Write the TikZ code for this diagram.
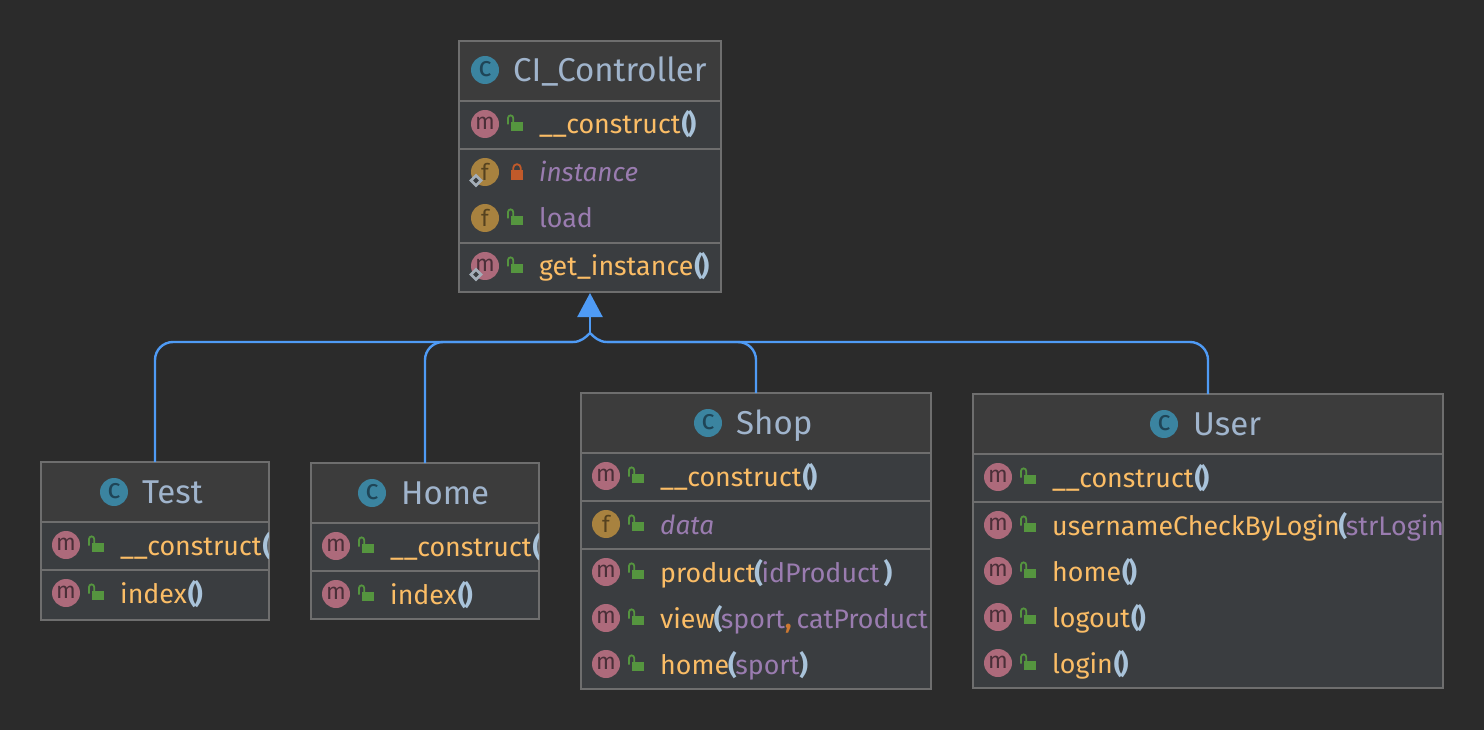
\documentclass[tikz,border=0pt]{standalone}
\usepackage{fontspec}
\setmainfont{Fira Sans}
\usetikzlibrary{arrows.meta}
\definecolor{bg}{HTML}{2B2B2B}
\definecolor{hdr}{HTML}{3C3C3C}
\definecolor{body}{HTML}{3A3D40}
\definecolor{edge}{HTML}{6E6E6E}
\definecolor{titlec}{HTML}{A0B4CC}
\definecolor{meth}{HTML}{FBBD66}
\definecolor{parm}{HTML}{9A7CB0}
\definecolor{paren}{HTML}{A9C3DA}
\definecolor{comma}{HTML}{CC7832}
\definecolor{icoc}{HTML}{3B84A0}
\definecolor{icom}{HTML}{AD6A7B}
\definecolor{icof}{HTML}{A8823F}
\definecolor{inkc}{HTML}{1F4557}
\definecolor{inkm}{HTML}{4A2F38}
\definecolor{inkf}{HTML}{55421F}
\definecolor{lockg}{HTML}{55953F}
\definecolor{locko}{HTML}{C15A2A}
\definecolor{link}{HTML}{4F9BF5}
\definecolor{stat}{HTML}{A4AEB8}
\tikzset{
  classbox/.style={draw=edge,fill=body,line width=2pt,inner sep=0pt,outer sep=0pt},
  sepline/.style={draw=edge,line width=2pt},
  icon/.style={circle,inner sep=0pt,outer sep=0pt,minimum size=28pt,font=\fontsize{23}{23}\selectfont},
  titletext/.style={anchor=base west,inner sep=0pt,text=titlec,font=\fontsize{33}{33}\selectfont},
  rowtext/.style={anchor=base west,inner sep=0pt,font=\fontsize{26.8}{27}\selectfont},
  uplink/.style={draw=link,line width=2.4pt,rounded corners=18pt},
  uplinkjoin/.style={draw=link,line width=2.4pt},
}
\newcommand{\classframe}[6]{%
  \node[classbox,minimum width={(#4-#2)*1pt},minimum height={(#5-#3)*1pt}] (#1) at ({(#2+#4)/2},{(#3+#5)/2}) {};
  \fill[hdr] (#2,#3) rectangle (#4,#6);
  \draw[edge,line width=2pt] (#2,#3) rectangle (#4,#5);
  \draw[sepline] (#2,#6) -- (#4,#6);
}
\newcommand{\titlerow}[5]{%
  \node[icon,fill=icoc,text=inkc] (#1-icon) at (#2,#4) {\fontsize{28}{28}\selectfont\raisebox{2pt}{c}};
  \node[titletext] (#1-name) at (#3,#4+11.5) {#5};
}
\newcommand{\greenlock}[2]{%
  \fill[lockg] (#1-5,#2-2.3) rectangle (#1+7,#2+7);
  \draw[lockg,line width=1.8pt] (#1-8,#2+0.5) -- (#1-8,#2-6) arc[start angle=180,end angle=360,radius=2.6] -- (#1-2.8,#2-2);
}
\newcommand{\redlock}[2]{%
  \fill[locko] (#1-5,#2-2) rectangle (#1+7,#2+8);
  \draw[locko,line width=1.8pt] (#1-2.8,#2-2) -- (#1-2.8,#2-4) arc[start angle=180,end angle=360,radius=3.8] -- (#1+4.8,#2-2);
}
\newcommand{\statmark}[2]{%
  \draw[stat,line width=2.6pt,fill=body] (#1-9,#2+3.5) -- (#1-4,#2+8.5) -- (#1-9,#2+13.5) -- (#1-14,#2+8.5) -- cycle;
}
% name, icon x, lock x, text x, y, text
\newcommand{\methodrow}[6]{%
  \node[icon,fill=icom,text=inkm] (#1-icon) at (#2,#5) {\raisebox{2pt}{m}};
  \greenlock{#3}{#5}
  \node[rowtext] (#1-text) at (#4,#5+10) {#6};
}
\newcommand{\fieldrow}[6]{%
  \node[icon,fill=icof,text=inkf] (#1-icon) at (#2,#5) {f};
  \greenlock{#3}{#5}
  \node[rowtext] (#1-text) at (#4,#5+10) {#6};
}
\newcommand{\mtx}[1]{\textcolor{meth}{#1}}
\newcommand{\ptx}[1]{\textcolor{parm}{#1}}
\newcommand{\opn}{\textcolor{paren}{\kern-1pt\bfseries(\kern-1.5pt}}
\newcommand{\cls}{\textcolor{paren}{\bfseries)}}
\newcommand{\pp}{\textcolor{paren}{\kern1pt\bfseries(\kern-2.5pt)}}
\newcommand{\ctor}{\mtx{\_\_construct}\pp}
\newcommand{\itfield}[1]{\fontsize{26.2}{27}\selectfont\itshape\ptx{#1}}
\begin{document}
\begin{tikzpicture}[x=1pt,y=-1pt]
\useasboundingbox (0,0) rectangle (1484,730);
\fill[bg] (0,0) rectangle (1484,730);

% CI_Controller
\classframe{ci}{459}{41}{721}{292}{101}
\draw[sepline] (459,149) -- (721,149);
\draw[sepline] (459,243) -- (721,243);
\titlerow{citop}{485}{513}{70}{CI\_Controller}
\methodrow{ci1}{485}{516}{539}{124}{\ctor}
\node[icon,fill=icof,text=inkf] (ci2-icon) at (485,172) {f};
\redlock{516}{172}
\node[rowtext] (ci2-text) at (539,182) {\itfield{instance}};
\statmark{485}{172}
\fieldrow{ci3}{485}{516}{539}{218}{\ptx{load}}
\methodrow{ci4}{485}{516}{539}{266}{\mtx{get\_instance}\pp}
\statmark{485}{266}

% Test
\classframe{test}{41}{462}{269}{620}{522}
\draw[sepline] (41,570) -- (269,570);
\titlerow{testtop}{114}{142}{492}{Test}
\begin{scope}
\clip (41,462) rectangle (268,620);
\methodrow{test1}{66}{97}{120}{545}{\ctor}
\methodrow{test2}{66}{97}{120}{593}{\mtx{index}\pp}
\end{scope}

% Home
\classframe{home}{311}{463}{539}{619}{523}
\draw[sepline] (311,571) -- (539,571);
\titlerow{hometop}{372}{401}{493}{Home}
\begin{scope}
\clip (311,463) rectangle (538,619);
\methodrow{home1}{336}{367}{390}{546}{\ctor}
\methodrow{home2}{336}{367}{390}{594}{\mtx{index}\pp}
\end{scope}

% Shop
\classframe{shop}{581}{393}{931}{689}{453}
\draw[sepline] (581,501) -- (931,501);
\draw[sepline] (581,549) -- (931,549);
\titlerow{shoptop}{708}{736}{423}{Shop}
\begin{scope}
\clip (581,393) rectangle (930,689);
\methodrow{shop1}{606}{637}{660}{476}{\ctor}
\fieldrow{shop2}{606}{637}{660}{524}{\itfield{data}}
\methodrow{shop3}{606}{637}{660}{572}{\mtx{product}\opn\ptx{idProduct}\kern4pt\cls}
\methodrow{shop4}{606}{637}{660}{618}{\mtx{view}\opn\ptx{sport}\textcolor{comma}{\bfseries,}\kern5pt\ptx{catProduct}}
\methodrow{shop5}{606}{637}{660}{664}{\mtx{home}\opn\ptx{sport}\cls}
\end{scope}

% User
\classframe{user}{973}{394}{1443}{688}{454}
\draw[sepline] (973,502) -- (1443,502);
\titlerow{usertop}{1164}{1193}{424}{User}
\begin{scope}
\clip (973,394) rectangle (1442,688);
\methodrow{user1}{998}{1029}{1052}{477}{\ctor}
\methodrow{user2}{998}{1029}{1052}{525}{\mtx{usernameCheckByLogin}\opn\ptx{strLogin}}
\methodrow{user3}{998}{1029}{1052}{571}{\mtx{home}\pp}
\methodrow{user4}{998}{1029}{1052}{617}{\mtx{logout}\pp}
\methodrow{user5}{998}{1029}{1052}{663}{\mtx{login}\pp}
\end{scope}

% Generalisation connectors
\coordinate (merge) at ([yshift=-41]ci.south);
\coordinate (left) at ([xshift=-17,yshift=-50]ci.south);
\coordinate (right) at ([xshift=17,yshift=-50]ci.south);
\draw[uplink] (test.north) |- (left);
\draw[uplink] (home.north) |- (left);
\draw[uplink] (shop.north) |- (right);
\draw[uplink] (user.north) |- (right);
\draw[uplinkjoin] (left) .. controls ([xshift=8]left) and ([xshift=-4,yshift=-4]merge) .. (merge);
\draw[uplinkjoin] (right) .. controls ([xshift=-8]right) and ([xshift=4,yshift=-4]merge) .. (merge);
\draw[draw=link,line width=2.4pt,-{Triangle[length=24pt,width=25pt,fill=link]}] (merge) -- ([yshift=-1]ci.south);
\end{tikzpicture}
\end{document}
